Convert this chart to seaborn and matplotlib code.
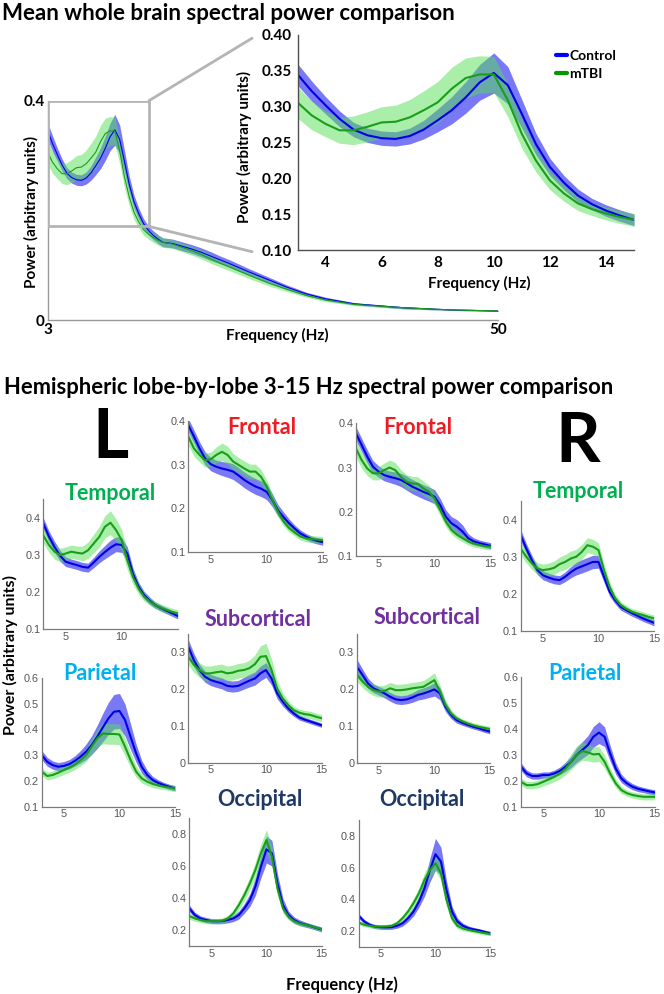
import numpy as np
import matplotlib
matplotlib.use("Agg")
import matplotlib.pyplot as plt
import seaborn as sns
from matplotlib.lines import Line2D
from matplotlib.patches import Rectangle, ConnectionPatch

# frequency grid shared by all 3-15 Hz curves
freq = [3, 3.5, 4, 4.5, 5, 5.5, 6, 6.5, 7, 7.5, 8, 8.5, 9, 9.5, 10,
        10.5, 11, 11.5, 12, 12.5, 13, 13.5, 14, 14.5, 15]

# whole brain, 3-15 Hz
wb_ctrl = [0.345, 0.322, 0.302, 0.283, 0.268, 0.260, 0.256, 0.255, 0.259, 0.268, 0.281, 0.295, 0.313,
           0.334, 0.347, 0.330, 0.290, 0.248, 0.216, 0.194, 0.176, 0.164, 0.155, 0.148, 0.142]
wb_ctrl_sem = [0.015, 0.014, 0.012, 0.011, 0.010, 0.010, 0.010, 0.010, 0.011, 0.013, 0.016, 0.019, 0.022,
               0.025, 0.028, 0.026, 0.020, 0.015, 0.012, 0.010, 0.009, 0.008, 0.008, 0.008, 0.008]
wb_tbi = [0.306, 0.288, 0.276, 0.267, 0.267, 0.272, 0.278, 0.279, 0.285, 0.295, 0.306, 0.325, 0.340,
          0.345, 0.345, 0.309, 0.262, 0.225, 0.197, 0.179, 0.165, 0.157, 0.151, 0.146, 0.142]
wb_tbi_sem = [0.022, 0.020, 0.018, 0.018, 0.020, 0.021, 0.022, 0.023, 0.025, 0.027, 0.029, 0.030, 0.028,
              0.026, 0.025, 0.023, 0.020, 0.016, 0.013, 0.011, 0.010, 0.009, 0.009, 0.009, 0.009]

# whole brain, 16-50 Hz (only in the overview)
tail_freq = [16, 17, 18, 19, 20, 21, 22, 24, 26, 28, 30, 32, 35, 40, 45, 50]
tail_ctrl = [0.140, 0.135, 0.130, 0.124, 0.117, 0.110, 0.103, 0.088, 0.074, 0.060, 0.048, 0.039, 0.030, 0.023, 0.019, 0.017]
tail_ctrl_sem = [0.008, 0.008, 0.008, 0.008, 0.008, 0.007, 0.007, 0.006, 0.005, 0.004, 0.003, 0.003, 0.002, 0.002, 0.001, 0.001]
tail_tbi = [0.139, 0.133, 0.127, 0.120, 0.112, 0.104, 0.097, 0.082, 0.068, 0.056, 0.045, 0.037, 0.029, 0.023, 0.019, 0.017]
tail_tbi_sem = [0.008, 0.008, 0.008, 0.008, 0.008, 0.007, 0.007, 0.006, 0.005, 0.004, 0.003, 0.003, 0.002, 0.002, 0.001, 0.001]

# left temporal
lt_ctrl = [0.385, 0.350, 0.322, 0.298, 0.282, 0.277, 0.273, 0.268, 0.266, 0.280, 0.295, 0.308, 0.320,
           0.329, 0.327, 0.304, 0.250, 0.215, 0.192, 0.177, 0.165, 0.157, 0.150, 0.143, 0.136]
lt_ctrl_sem = [0.015, 0.015, 0.015, 0.015, 0.013, 0.012, 0.012, 0.012, 0.012, 0.014, 0.016, 0.018, 0.020,
               0.020, 0.020, 0.018, 0.015, 0.012, 0.010, 0.010, 0.008, 0.008, 0.008, 0.008, 0.008]
lt_tbi = [0.353, 0.327, 0.309, 0.300, 0.304, 0.309, 0.306, 0.304, 0.313, 0.331, 0.349, 0.376, 0.387,
          0.367, 0.340, 0.286, 0.241, 0.210, 0.188, 0.175, 0.165, 0.158, 0.152, 0.147, 0.143]
lt_tbi_sem = [0.020, 0.020, 0.020, 0.018, 0.018, 0.018, 0.018, 0.020, 0.022, 0.025, 0.028, 0.030, 0.032,
              0.030, 0.028, 0.025, 0.020, 0.015, 0.012, 0.010, 0.010, 0.010, 0.010, 0.010, 0.010]

# left frontal
lf_ctrl = [0.390, 0.364, 0.337, 0.314, 0.301, 0.295, 0.291, 0.288, 0.284, 0.275, 0.265, 0.257, 0.250,
           0.245, 0.238, 0.219, 0.196, 0.180, 0.166, 0.154, 0.143, 0.136, 0.130, 0.126, 0.123]
lf_ctrl_sem = [0.015, 0.015, 0.015, 0.015, 0.015, 0.015, 0.016, 0.017, 0.018, 0.018, 0.018, 0.018, 0.018,
               0.018, 0.018, 0.015, 0.013, 0.012, 0.010, 0.008, 0.008, 0.007, 0.007, 0.007, 0.007]
lf_tbi = [0.364, 0.337, 0.322, 0.310, 0.312, 0.322, 0.329, 0.322, 0.307, 0.299, 0.291, 0.284, 0.284,
          0.272, 0.250, 0.219, 0.193, 0.170, 0.155, 0.145, 0.136, 0.132, 0.130, 0.129, 0.128]
lf_tbi_sem = [0.020, 0.018, 0.016, 0.016, 0.016, 0.018, 0.020, 0.020, 0.018, 0.017, 0.017, 0.017, 0.017,
              0.016, 0.015, 0.014, 0.012, 0.010, 0.009, 0.008, 0.008, 0.008, 0.008, 0.008, 0.008]

# right frontal
rf_ctrl = [0.377, 0.351, 0.325, 0.302, 0.291, 0.283, 0.279, 0.276, 0.272, 0.265, 0.257, 0.251, 0.245,
           0.240, 0.234, 0.215, 0.189, 0.174, 0.166, 0.155, 0.140, 0.133, 0.129, 0.126, 0.123]
rf_ctrl_sem = [0.015, 0.015, 0.015, 0.014, 0.013, 0.013, 0.013, 0.014, 0.015, 0.016, 0.016, 0.016, 0.016,
               0.016, 0.016, 0.015, 0.015, 0.015, 0.016, 0.015, 0.010, 0.008, 0.007, 0.007, 0.007]
rf_tbi = [0.343, 0.317, 0.298, 0.287, 0.287, 0.294, 0.300, 0.294, 0.279, 0.268, 0.264, 0.263, 0.253,
          0.245, 0.230, 0.204, 0.178, 0.159, 0.148, 0.140, 0.133, 0.128, 0.125, 0.122, 0.121]
rf_tbi_sem = [0.020, 0.018, 0.016, 0.015, 0.015, 0.016, 0.017, 0.017, 0.016, 0.016, 0.016, 0.016, 0.016,
              0.015, 0.014, 0.013, 0.012, 0.010, 0.009, 0.008, 0.008, 0.008, 0.007, 0.007, 0.007]

# right temporal
rt_ctrl = [0.358, 0.322, 0.291, 0.264, 0.250, 0.244, 0.239, 0.237, 0.246, 0.258, 0.268, 0.274, 0.280,
           0.286, 0.286, 0.246, 0.206, 0.183, 0.165, 0.156, 0.148, 0.141, 0.134, 0.128, 0.122]
rt_ctrl_sem = [0.015, 0.014, 0.013, 0.012, 0.012, 0.012, 0.012, 0.012, 0.013, 0.015, 0.017, 0.018, 0.018,
               0.018, 0.017, 0.015, 0.012, 0.010, 0.009, 0.008, 0.008, 0.008, 0.008, 0.008, 0.008]
rt_tbi = [0.322, 0.300, 0.282, 0.268, 0.264, 0.266, 0.270, 0.280, 0.286, 0.295, 0.300, 0.313, 0.331,
          0.327, 0.318, 0.264, 0.219, 0.188, 0.170, 0.160, 0.152, 0.147, 0.143, 0.138, 0.134]
rt_tbi_sem = [0.018, 0.017, 0.016, 0.016, 0.016, 0.017, 0.018, 0.019, 0.020, 0.020, 0.020, 0.020, 0.020,
              0.020, 0.019, 0.017, 0.014, 0.011, 0.010, 0.009, 0.009, 0.009, 0.009, 0.009, 0.009]

# left subcortical
ls_ctrl = [0.315, 0.279, 0.252, 0.234, 0.225, 0.220, 0.216, 0.209, 0.207, 0.209, 0.216, 0.223, 0.229,
           0.243, 0.252, 0.229, 0.189, 0.166, 0.148, 0.134, 0.123, 0.117, 0.112, 0.107, 0.102]
ls_ctrl_sem = [0.020, 0.018, 0.016, 0.015, 0.015, 0.015, 0.015, 0.015, 0.015, 0.015, 0.016, 0.017, 0.018,
               0.020, 0.020, 0.018, 0.015, 0.012, 0.010, 0.008, 0.007, 0.006, 0.006, 0.006, 0.006]
ls_tbi = [0.288, 0.266, 0.252, 0.243, 0.243, 0.246, 0.248, 0.243, 0.245, 0.250, 0.252, 0.257, 0.268,
          0.288, 0.290, 0.252, 0.202, 0.175, 0.157, 0.143, 0.136, 0.132, 0.130, 0.125, 0.121]
ls_tbi_sem = [0.022, 0.020, 0.020, 0.020, 0.020, 0.020, 0.020, 0.020, 0.020, 0.020, 0.020, 0.022, 0.025,
              0.030, 0.035, 0.030, 0.022, 0.015, 0.012, 0.010, 0.010, 0.010, 0.010, 0.010, 0.010]

# right subcortical
rs_ctrl = [0.261, 0.239, 0.216, 0.203, 0.196, 0.189, 0.180, 0.173, 0.171, 0.173, 0.178, 0.185, 0.189,
           0.194, 0.200, 0.189, 0.153, 0.131, 0.117, 0.110, 0.104, 0.099, 0.095, 0.090, 0.086]
rs_ctrl_sem = [0.020, 0.016, 0.014, 0.012, 0.012, 0.012, 0.012, 0.012, 0.012, 0.012, 0.013, 0.014, 0.015,
               0.016, 0.018, 0.017, 0.013, 0.010, 0.008, 0.007, 0.006, 0.006, 0.006, 0.006, 0.006]
rs_tbi = [0.239, 0.221, 0.207, 0.198, 0.194, 0.196, 0.203, 0.198, 0.198, 0.200, 0.203, 0.205, 0.207,
          0.216, 0.225, 0.194, 0.158, 0.135, 0.122, 0.114, 0.108, 0.103, 0.099, 0.096, 0.093]
rs_tbi_sem = [0.018, 0.016, 0.015, 0.015, 0.015, 0.016, 0.016, 0.016, 0.016, 0.016, 0.016, 0.016, 0.017,
              0.018, 0.020, 0.017, 0.013, 0.010, 0.008, 0.007, 0.007, 0.007, 0.007, 0.007, 0.007]

# left parietal
lp_ctrl = [0.300, 0.274, 0.261, 0.255, 0.258, 0.265, 0.278, 0.294, 0.313, 0.339, 0.371, 0.407, 0.442,
           0.468, 0.471, 0.436, 0.371, 0.307, 0.255, 0.223, 0.203, 0.192, 0.184, 0.177, 0.171]
lp_ctrl_sem = [0.018, 0.017, 0.016, 0.016, 0.017, 0.018, 0.020, 0.024, 0.030, 0.036, 0.045, 0.055, 0.062,
               0.067, 0.068, 0.062, 0.050, 0.035, 0.025, 0.018, 0.014, 0.012, 0.010, 0.010, 0.010]
lp_tbi = [0.236, 0.219, 0.223, 0.232, 0.242, 0.252, 0.264, 0.281, 0.300, 0.333, 0.365, 0.384, 0.382,
          0.382, 0.380, 0.333, 0.281, 0.236, 0.210, 0.197, 0.188, 0.182, 0.178, 0.174, 0.171]
lp_tbi_sem = [0.015, 0.015, 0.015, 0.016, 0.017, 0.018, 0.020, 0.022, 0.025, 0.030, 0.035, 0.040, 0.040,
              0.040, 0.040, 0.035, 0.030, 0.022, 0.018, 0.015, 0.014, 0.013, 0.012, 0.012, 0.012]

# right parietal
rp_ctrl = [0.254, 0.228, 0.218, 0.218, 0.222, 0.222, 0.228, 0.238, 0.254, 0.273, 0.299, 0.318, 0.337,
           0.369, 0.385, 0.369, 0.305, 0.247, 0.209, 0.190, 0.177, 0.169, 0.164, 0.159, 0.155]
rp_ctrl_sem = [0.015, 0.013, 0.012, 0.012, 0.012, 0.012, 0.013, 0.015, 0.018, 0.022, 0.028, 0.032, 0.036,
               0.040, 0.042, 0.038, 0.030, 0.022, 0.016, 0.013, 0.012, 0.011, 0.010, 0.010, 0.010]
rp_tbi = [0.196, 0.183, 0.183, 0.187, 0.196, 0.205, 0.215, 0.228, 0.247, 0.273, 0.299, 0.314, 0.309,
          0.301, 0.303, 0.273, 0.228, 0.190, 0.164, 0.152, 0.145, 0.141, 0.138, 0.138, 0.138]
rp_tbi_sem = [0.014, 0.014, 0.014, 0.015, 0.016, 0.017, 0.018, 0.020, 0.024, 0.030, 0.035, 0.035, 0.033,
              0.030, 0.028, 0.025, 0.020, 0.016, 0.014, 0.012, 0.012, 0.012, 0.012, 0.012, 0.012]

# left occipital
lo_ctrl = [0.336, 0.294, 0.273, 0.263, 0.256, 0.255, 0.256, 0.263, 0.273, 0.294, 0.336, 0.388, 0.472,
           0.597, 0.705, 0.681, 0.493, 0.357, 0.294, 0.263, 0.246, 0.235, 0.225, 0.214, 0.204]
lo_ctrl_sem = [0.020, 0.018, 0.016, 0.016, 0.016, 0.016, 0.016, 0.018, 0.020, 0.025, 0.030, 0.040, 0.055,
               0.070, 0.085, 0.080, 0.060, 0.040, 0.025, 0.020, 0.018, 0.016, 0.015, 0.015, 0.015]
lo_tbi = [0.288, 0.273, 0.263, 0.256, 0.256, 0.256, 0.258, 0.273, 0.304, 0.357, 0.419, 0.493, 0.576,
          0.681, 0.764, 0.660, 0.461, 0.336, 0.284, 0.256, 0.242, 0.233, 0.225, 0.215, 0.206]
lo_tbi_sem = [0.020, 0.018, 0.016, 0.016, 0.016, 0.016, 0.018, 0.020, 0.025, 0.030, 0.035, 0.040, 0.050,
              0.060, 0.065, 0.060, 0.045, 0.030, 0.020, 0.016, 0.015, 0.014, 0.013, 0.013, 0.013]

# right occipital
ro_ctrl = [0.295, 0.259, 0.238, 0.227, 0.223, 0.222, 0.223, 0.232, 0.248, 0.280, 0.322, 0.385, 0.469,
           0.585, 0.684, 0.638, 0.459, 0.322, 0.259, 0.232, 0.217, 0.209, 0.202, 0.193, 0.185]
ro_ctrl_sem = [0.015, 0.014, 0.013, 0.013, 0.013, 0.013, 0.013, 0.015, 0.018, 0.022, 0.028, 0.035, 0.050,
               0.075, 0.100, 0.090, 0.060, 0.035, 0.022, 0.016, 0.014, 0.012, 0.012, 0.012, 0.012]
ro_tbi = [0.253, 0.238, 0.232, 0.227, 0.227, 0.228, 0.232, 0.248, 0.280, 0.322, 0.375, 0.438, 0.522,
          0.585, 0.627, 0.564, 0.396, 0.280, 0.232, 0.215, 0.206, 0.199, 0.192, 0.186, 0.181]
ro_tbi_sem = [0.014, 0.013, 0.013, 0.013, 0.013, 0.013, 0.014, 0.016, 0.020, 0.025, 0.030, 0.035, 0.045,
              0.050, 0.050, 0.045, 0.035, 0.025, 0.018, 0.014, 0.012, 0.012, 0.012, 0.012, 0.012]

# colours
CTRL_LINE, CTRL_BAND = "#0000e6", "#2020f0"
TBI_LINE, TBI_BAND = "#1a9e1a", "#55e055"
SPINE = "#7a7a7a"

sns.set_style("white")
plt.rcParams["font.family"] = ["Liberation Sans", "DejaVu Sans"]
plt.rcParams["text.color"] = "black"
TFONT = "Lato"

W, H = 664, 994
fig = plt.figure(figsize=(W / 100, H / 100), dpi=100)


def px_axes(left, right, top, bottom):
    return fig.add_axes([left / W, 1 - bottom / H, (right - left) / W, (bottom - top) / H])


def ftext(x, y, s, **kw):
    fig.text(x / W, 1 - y / H, s, **kw)


def draw_pair(ax, f, ctrl, ctrl_sem, tbi, tbi_sem, lw):
    c, cs = np.array(ctrl), np.array(ctrl_sem)
    t, ts = np.array(tbi), np.array(tbi_sem)
    ax.fill_between(f, c - cs, c + cs, color=CTRL_BAND, alpha=0.6, lw=0)
    sns.lineplot(x=f, y=c, ax=ax, color=CTRL_LINE, lw=lw)
    ax.fill_between(f, t - ts, t + ts, color=TBI_BAND, alpha=0.5, lw=0)
    sns.lineplot(x=f, y=t, ax=ax, color=TBI_LINE, lw=lw)
    ax.set_xlabel("")
    ax.set_ylabel("")


def clean_spines(ax, color, lw):
    for s in ["top", "right"]:
        ax.spines[s].set_visible(False)
    for s in ["left", "bottom"]:
        ax.spines[s].set_color(color)
        ax.spines[s].set_linewidth(lw)


# ---- overview, 3-50 Hz ----
ov = px_axes(47.7, 498.3, 100.7, 320.3)
draw_pair(ov, freq + tail_freq, wb_ctrl + tail_ctrl, wb_ctrl_sem + tail_ctrl_sem,
          wb_tbi + tail_tbi, wb_tbi_sem + tail_tbi_sem, 0.8)
ov.set_xlim(3, 50)
ov.set_ylim(0, 0.4)
clean_spines(ov, "#9a9a9a", 1.0)
ov.set_xticks([3, 50])
ov.set_xticklabels(["3", "50"])
ov.set_xticks(list(range(5, 50, 5)), minor=True)
ov.set_yticks([0, 0.4])
ov.set_yticklabels(["0", "0.4"])
ov.set_yticks([0.05, 0.1, 0.15, 0.2, 0.25, 0.3, 0.35], minor=True)
ov.tick_params(which="both", direction="in", length=4, width=0.8, color="#7a7a7a",
               labelsize=11, labelcolor="black", pad=2)
ov.tick_params(axis="x", which="major", length=0)
for lab in ov.get_xticklabels() + ov.get_yticklabels():
    lab.set_fontfamily(TFONT)
    lab.set_fontweight("bold")
ftext(31, 212, "Power (arbitrary units)", rotation=90, ha="center", va="center",
      fontsize=11, fontweight="bold", family=TFONT)
ftext(277, 335, "Frequency (Hz)", ha="center", va="center", fontsize=11,
      fontweight="bold", family=TFONT)

# zoom box on the overview
box = Rectangle((3, 0.171), 13.56 - 3, 0.4 - 0.171, fill=False, ec="#b4b4b4", lw=2, zorder=5)
ov.add_patch(box)

# ---- inset, 3-15 Hz ----
ins = px_axes(297.5, 634, 35, 250)
draw_pair(ins, freq, wb_ctrl, wb_ctrl_sem, wb_tbi, wb_tbi_sem, 1.5)
ins.set_xlim(3, 15)
ins.set_ylim(0.1, 0.4)
clean_spines(ins, "#505050", 1.0)
ins.set_xticks([4, 6, 8, 10, 12, 14])
ins.set_yticks([0.10, 0.15, 0.20, 0.25, 0.30, 0.35, 0.40])
ins.set_yticklabels(["0.10", "0.15", "0.20", "0.25", "0.30", "0.35", "0.40"])
ins.tick_params(direction="in", length=4, width=0.8, color="#505050", labelsize=11,
                labelcolor="black", pad=4)
for lab in ins.get_xticklabels() + ins.get_yticklabels():
    lab.set_fontfamily(TFONT)
    lab.set_fontweight("bold")
ftext(244, 147, "Power (arbitrary units)", rotation=90, ha="center", va="center",
      fontsize=11, fontweight="bold", family=TFONT)
ftext(479, 283, "Frequency (Hz)", ha="center", va="center", fontsize=11,
      fontweight="bold", family=TFONT)
handles = [Line2D([], [], color="#0000ff", lw=3), Line2D([], [], color="#009a00", lw=3)]
leg = ins.legend(handles, ["Control", "mTBI"], loc="upper right", bbox_to_anchor=(0.985, 0.99),
                 frameon=False, handlelength=0.8, handletextpad=0.15, labelspacing=0.45,
                 prop={"family": TFONT, "weight": "bold", "size": 10})

for xa, ya, xb, yb in [(13.56, 0.4, -0.135, 0.985), (13.56, 0.171, -0.135, -0.008)]:
    con = ConnectionPatch(xyA=(xa, ya), coordsA=ov.transData, xyB=(xb, yb),
                          coordsB=ins.transAxes, color="#b4b4b4", lw=2)
    fig.add_artist(con)

# ---- titles ----
ftext(2, 13, "Mean whole brain spectral power comparison", ha="left", va="center",
      fontsize=16, fontweight="bold", family=TFONT)
ftext(4, 388, "Hemispheric lobe-by-lobe 3-15 Hz spectral power comparison", ha="left",
      va="center", fontsize=15.8, fontweight="bold", family=TFONT)
ftext(110, 439, "L", ha="center", va="center", fontsize=50, fontweight="bold", family=TFONT)
ftext(578, 443, "R", ha="center", va="center", fontsize=50, fontweight="bold", family=TFONT)

# ---- lobe panels ----
panels = [
    # name, colour, (left, right, top, bottom), title centre, ylim, yticks, xticks, data
    ("Temporal", "#00b050", (43.3, 177.7, 499.3, 629.3), (110, 493), (0.1, 0.45),
     [0.1, 0.2, 0.3, 0.4], [5, 10], (lt_ctrl, lt_ctrl_sem, lt_tbi, lt_tbi_sem)),
    ("Frontal", "#ee1c24", (188.3, 322.7, 420.7, 552.3), (262, 428), (0.1, 0.4),
     [0.1, 0.2, 0.3, 0.4], [5, 10, 15], (lf_ctrl, lf_ctrl_sem, lf_tbi, lf_tbi_sem)),
    ("Subcortical", "#7030a0", (188.3, 321.5, 634, 762.7), (258, 619), (0, 0.35),
     [0, 0.1, 0.2, 0.3], [5, 10, 15], (ls_ctrl, ls_ctrl_sem, ls_tbi, ls_tbi_sem)),
    ("Parietal", "#00b0f0", (41.7, 175, 677.7, 806.7), (100, 673), (0.1, 0.6),
     [0.1, 0.2, 0.3, 0.4, 0.5, 0.6], [5, 10, 15], (lp_ctrl, lp_ctrl_sem, lp_tbi, lp_tbi_sem)),
    ("Occipital", "#1f3864", (189.3, 321.5, 818.3, 946), (260, 799), (0.1, 0.9),
     [0.2, 0.4, 0.6, 0.8], [5, 10, 15], (lo_ctrl, lo_ctrl_sem, lo_tbi, lo_tbi_sem)),
    ("Frontal", "#ee1c24", (356, 490.7, 423.3, 556), (418, 428), (0.1, 0.4),
     [0.1, 0.2, 0.3, 0.4], [5, 10, 15], (rf_ctrl, rf_ctrl_sem, rf_tbi, rf_tbi_sem)),
    ("Temporal", "#00b050", (520.7, 654, 501, 631), (578, 492), (0.1, 0.45),
     [0.1, 0.2, 0.3, 0.4], [5, 10, 15], (rt_ctrl, rt_ctrl_sem, rt_tbi, rt_tbi_sem)),
    ("Subcortical", "#7030a0", (357, 489.7, 634, 763.3), (427, 618), (0, 0.35),
     [0, 0.1, 0.2, 0.3], [5, 10, 15], (rs_ctrl, rs_ctrl_sem, rs_tbi, rs_tbi_sem)),
    ("Parietal", "#00b0f0", (521, 654.7, 676.7, 806.7), (585, 673), (0.1, 0.6),
     [0.1, 0.2, 0.3, 0.4, 0.5, 0.6], [5, 10, 15], (rp_ctrl, rp_ctrl_sem, rp_tbi, rp_tbi_sem)),
    ("Occipital", "#1f3864", (358.7, 490.3, 820, 946.7), (422, 799), (0.1, 0.9),
     [0.2, 0.4, 0.6, 0.8], [5, 10, 15], (ro_ctrl, ro_ctrl_sem, ro_tbi, ro_tbi_sem)),
]

for name, col, rect, tpos, ylim, yticks, xticks, data in panels:
    ax = px_axes(*rect)
    ax.set_facecolor("none")
    draw_pair(ax, freq, *data, 1.5)
    ax.set_xlim(3, 15)
    ax.set_ylim(*ylim)
    clean_spines(ax, SPINE, 0.9)
    ax.set_xticks(xticks)
    ax.set_yticks(yticks)
    ax.set_yticklabels(["{:g}".format(v) for v in yticks])
    ax.tick_params(direction="in", length=2.5, width=0.7, color=SPINE,
                   labelcolor="#555555", labelsize=7.8, pad=2)
    ftext(tpos[0], tpos[1], name, ha="center", va="center", color=col, fontsize=15.5,
          fontweight="bold", family=TFONT)

ftext(10, 655, "Power (arbitrary units)", rotation=90, ha="center", va="center",
      fontsize=11.5, fontweight="bold", family=TFONT)
ftext(342, 985, "Frequency (Hz)", ha="center", va="center", fontsize=12,
      fontweight="bold", family=TFONT)

fig.savefig("out.png", dpi=100)
